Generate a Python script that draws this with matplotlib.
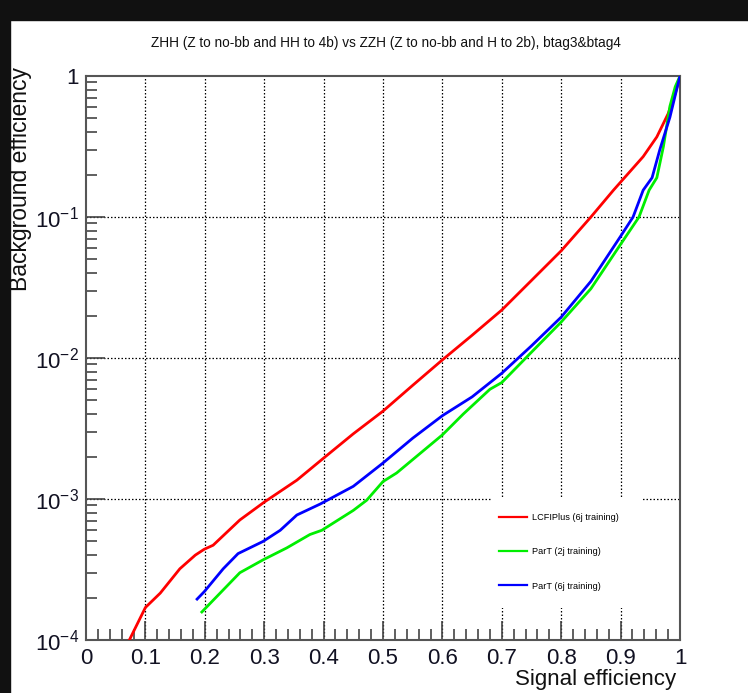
import numpy as np
import matplotlib as mpl
mpl.use('Agg')
import matplotlib.pyplot as plt
from matplotlib.patches import Rectangle
from matplotlib.ticker import FixedLocator, FixedFormatter, LogLocator, NullFormatter


mpl.rc('font', family=['Liberation Sans', 'DejaVu Sans'])
plt.rcParams['mathtext.default'] = 'regular'

TITLE = "ZHH (Z to no-bb and HH to 4b) vs ZZH (Z to no-bb and H to 2b), btag3&btag4"

# curves (signal eff, background eff)
red_x = [0.073, 0.10, 0.125, 0.158, 0.184, 0.199, 0.214, 0.259, 0.30, 0.355,
         0.40, 0.45, 0.50, 0.55, 0.60, 0.65, 0.70, 0.75, 0.80, 0.85,
         0.888, 0.938, 0.961, 0.980, 0.992, 1.0]
red_y = [1.0e-4, 1.7e-4, 2.15e-4, 3.2e-4, 4.0e-4, 4.4e-4, 4.7e-4, 7.1e-4, 9.5e-4, 1.36e-3,
         1.95e-3, 2.9e-3, 4.2e-3, 6.4e-3, 9.7e-3, 1.45e-2, 2.19e-2, 3.55e-2, 5.76e-2, 0.10,
         0.155, 0.268, 0.37, 0.54, 0.75, 1.0]

green_x = [0.195, 0.259, 0.298, 0.338, 0.377, 0.397, 0.45, 0.4725, 0.50, 0.523,
           0.60, 0.635, 0.68, 0.70, 0.75, 0.80, 0.85, 0.90, 0.931, 0.948,
           0.961, 0.972, 0.983, 0.992, 1.0]
green_y = [1.58e-4, 3.0e-4, 3.7e-4, 4.5e-4, 5.6e-4, 6.0e-4, 8.3e-4, 9.8e-4, 1.33e-3, 1.53e-3,
           2.85e-3, 4.0e-3, 6.0e-3, 6.7e-3, 1.1e-2, 1.8e-2, 3.1e-2, 6.4e-2, 0.10, 0.155,
           0.19, 0.315, 0.61, 0.84, 1.0]

blue_x = [0.187, 0.199, 0.231, 0.256, 0.298, 0.327, 0.355, 0.394, 0.45, 0.50,
          0.55, 0.60, 0.65, 0.70, 0.75, 0.80, 0.85, 0.90, 0.921, 0.938,
          0.953, 0.966, 0.983, 0.993, 1.0]
blue_y = [1.95e-4, 2.2e-4, 3.2e-4, 4.1e-4, 5.0e-4, 6.0e-4, 7.7e-4, 9.2e-4, 1.23e-3, 1.8e-3,
          2.7e-3, 3.9e-3, 5.3e-3, 7.8e-3, 1.22e-2, 1.95e-2, 3.5e-2, 7.3e-2, 0.10, 0.155,
          0.19, 0.30, 0.51, 0.76, 1.0]

labels = ["LCFIPlus (6j training)", "ParT (2j training)", "ParT (6j training)"]
colors = ['#ff0000', '#00ee00', '#0000ff']

xticks = [0, 0.1, 0.2, 0.3, 0.4, 0.5, 0.6, 0.7, 0.8, 0.9, 1]
xticklabels = ['0', '0.1', '0.2', '0.3', '0.4', '0.5', '0.6', '0.7', '0.8', '0.9', '1']
yticks = [1e-4, 1e-3, 1e-2, 1e-1, 1]
yticklabels = ['$10^{-4}$', '$10^{-3}$', '$10^{-2}$', '$10^{-1}$', '1']


def main():
    W, H = 748, 693
    fig = plt.figure(figsize=(W / 100, H / 100), dpi=100)
    fig.patch.set_facecolor('white')

    # dark screenshot border
    fig.patches.append(Rectangle((0, 0), 10 / W, 1, transform=fig.transFigure,
                                 color='#111111', zorder=-1))
    fig.patches.append(Rectangle((0, 1 - 20 / H), 1, 20 / H, transform=fig.transFigure,
                                 color='#111111', zorder=-1))

    ax = fig.add_axes([86 / W, 1 - 640 / H, 594 / W, 564 / H])
    ax.set_xlim(0, 1)
    ax.set_yscale('log')
    ax.set_ylim(1e-4, 1)

    for x, y, c, lab in zip([red_x, green_x, blue_x], [red_y, green_y, blue_y], colors, labels):
        ax.plot(x, y, color=c, lw=2.0, label=lab, zorder=3)

    # ticks
    ax.xaxis.set_major_locator(FixedLocator(xticks))
    ax.xaxis.set_major_formatter(FixedFormatter(xticklabels))
    ax.xaxis.set_minor_locator(FixedLocator(np.arange(0, 1.0001, 0.02)))
    ax.yaxis.set_major_locator(FixedLocator(yticks))
    ax.yaxis.set_major_formatter(FixedFormatter(yticklabels))
    ax.yaxis.set_minor_locator(LogLocator(base=10, subs=np.arange(2, 10)))
    ax.yaxis.set_minor_formatter(NullFormatter())
    ax.tick_params(which='both', direction='in', top=False, right=False,
                   color='#444444', width=1.2, labelsize=16, labelcolor='#111122')
    ax.tick_params(which='major', length=14)
    ax.tick_params(which='minor', length=8)
    ax.tick_params(axis='x', pad=6)
    ax.tick_params(axis='y', pad=5)

    for s in ax.spines.values():
        s.set_color('#555555')
        s.set_linewidth(1.5)

    # grid
    ax.set_axisbelow(True)
    for xv in xticks[1:-1]:
        ax.axvline(xv, color='black', lw=0.9, ls=(0, (1.2, 1.6)), zorder=0.5)
    for yv in yticks[1:-1]:
        ax.axhline(yv, color='black', lw=0.9, ls=(0, (1.2, 1.6)), zorder=0.5)

    # legend box (white, hides the grid)
    ax.add_patch(Rectangle((0.683, 0.057), 0.253, 0.196, transform=ax.transAxes,
                           facecolor='white', edgecolor='none', zorder=1))
    leg = ax.legend(loc='upper left', bbox_to_anchor=(0.683, 0.238), frameon=False,
                    fontsize=6.6, handlelength=3.0, handletextpad=0.55,
                    labelspacing=2.75, borderpad=0.3)
    for line in leg.get_lines():
        line.set_linewidth(1.6)

    fig.text(386 / W, 1 - 43 / H, TITLE, ha='center', va='center', fontsize=9.8, color='#111111')
    fig.text(676 / W, 1 - 680 / H, "Signal efficiency", ha='right', va='center',
             fontsize=16, color='#111111')
    fig.text(21 / W, 1 - 67 / H, "Background efficiency", ha='center', va='top',
             rotation=90, fontsize=16.5, color='#111111')

    fig.savefig('out.png', dpi=100)


if __name__ == '__main__':
    main()
